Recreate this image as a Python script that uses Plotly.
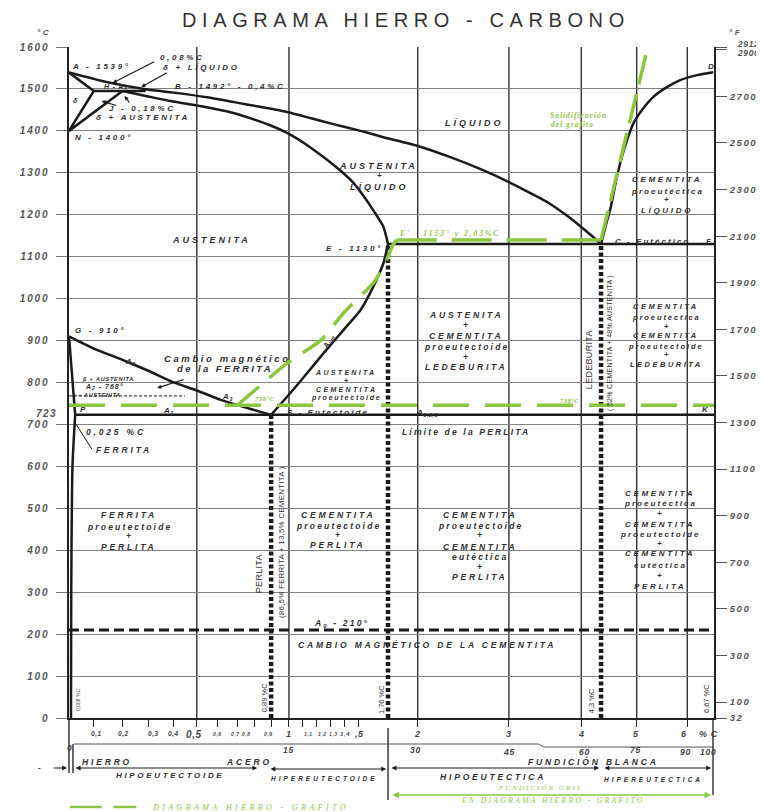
import numpy as np
import plotly.graph_objects as go

# ---------------- axis definition (printed composition axis is not linear) ----------------
AXIS_C = [0, 0.1, 0.2, 0.3, 0.4, 0.5, 0.6, 0.7, 0.8, 0.9, 1.0, 1.5, 1.76, 2, 3, 4, 4.3, 5, 6, 6.67]
AXIS_POS = [0, 25, 54, 80, 105, 129, 150, 170, 187, 204, 222, 292, 322, 352, 444, 517, 537, 573, 624, 651]

TEMP_C_TICKS = list(range(0, 1601, 100))
TEMP_F_TICKS = [32, 100, 300, 500, 700, 900, 1100, 1300, 1500, 1700, 1900, 2100, 2300, 2500, 2700, 2900, 2912]
COMP_TICKS = [0.1, 0.2, 0.3, 0.4, 0.5, 0.6, 0.7, 0.8, 0.9, 1.0, 1.1, 1.2, 1.3, 1.4, 1.5, 2, 3, 4, 5, 6]
GRID_C = [0.5, 1, 2, 3, 4, 5, 6]

# ---------------- phase boundaries (%C, °C) ----------------
liquidus_C = [0, 0.14, 0.29, 0.42, 0.55, 0.69, 0.84, 0.99, 1.16, 1.32, 1.52, 1.72, 2.0, 2.35, 2.71, 3.0,
              3.27, 3.55, 3.8, 4.0, 4.15, 4.3]
liquidus_T = [1539, 1517, 1499, 1490, 1480, 1468, 1457, 1445, 1430, 1416, 1400, 1385, 1364, 1338, 1307, 1278,
              1254, 1228, 1198, 1171, 1151, 1130]

solidus_C = [0.2, 0.3, 0.39, 0.54, 0.66, 0.77, 0.89, 0.99, 1.17, 1.34, 1.46, 1.54, 1.64, 1.72, 1.76]
solidus_T = [1495, 1482, 1471, 1457, 1445, 1431, 1414, 1395, 1357, 1314, 1278, 1247, 1207, 1171, 1130]

delta_AH_C = [0, 0.1]
delta_AH_T = [1539, 1495]
delta_NH_C = [0, 0.1]
delta_NH_T = [1400, 1495]
delta_NJ_C = [0, 0.2]
delta_NJ_T = [1400, 1495]
peritectic_C = [0.1, 0.29]
peritectic_T = [1495, 1495]

a3_C = [0, 0.1, 0.2, 0.3, 0.4, 0.5, 0.62, 0.75, 0.9]
a3_T = [910, 881, 854, 828, 801, 781, 758, 740, 723]
acm_C = [0.9, 1.01, 1.13, 1.25, 1.4, 1.52, 1.63, 1.72, 1.76]
acm_T = [723, 775, 822, 870, 928, 973, 1028, 1085, 1130]
gp_C = [0, 0.025]
gp_T = [910, 723]
pq_C = [0.025, 0.014, 0.009, 0.008]
pq_T = [723, 600, 300, 0]

eutectic_C = [1.76, 6.67]
eutectic_T = [1130, 1130]
eutectoid_C = [0.025, 6.67]
eutectoid_T = [723, 723]

cd_C = [4.3, 4.4, 4.49, 4.59, 4.69, 4.81, 4.94, 5.12, 5.33, 5.58, 5.86, 6.25, 6.65]
cd_T = [1130, 1178, 1218, 1278, 1330, 1378, 1419, 1452, 1481, 1503, 1521, 1533, 1540]

a2_C = [0, 0.45]
a2_T = [768, 768]
a0_C = [0, 6.67]
a0_T = [210, 210]

dotted_C = [0.9, 1.76, 4.3]
dotted_top_T = [723, 1130, 1130]

# iron - graphite diagram (green)
g_eutectoid_C = [0, 6.67]
g_eutectoid_T = [746, 746]
g_acm_C = [0.7, 0.86, 0.99, 1.23, 1.40, 1.63, 1.72, 1.80, 1.83]
g_acm_T = [746, 801, 846, 901, 968, 1037, 1075, 1128, 1140]
g_eutectic_C = [1.83, 4.3]
g_eutectic_T = [1140, 1140]
g_liq_C = [4.3, 5.22]
g_liq_T = [1140, 1600]

# ---------------- style ----------------
BLACK = '#1a1a1a'
GREEN = '#8CC63E'
DARK = '#303030'
SANS = 'Liberation Sans'
SERIF = 'Liberation Serif'

# plot area as seen on screen (page body adds an 8 px offset)
L, T = 63, 47
PW, PH = 651, 671
OFF = 8
W, H = 764, 812


def X(c):
    return np.interp(c, AXIS_C, AXIS_POS)


def PX(px):
    return (px - L) / PW


def PY(py):
    return (T + PH - py) / PH


fig = go.Figure()


def line(c, t, color=BLACK, width=2.5, dash=None):
    fig.add_trace(go.Scatter(x=X(np.array(c, dtype=float)), y=t, mode='lines',
                             line=dict(color=color, width=width, dash=dash, shape='spline', smoothing=0.6),
                             hoverinfo='skip', showlegend=False))


# vertical grid lines
for c in GRID_C:
    fig.add_shape(type='line', x0=X(c), x1=X(c), y0=0, y1=1600, xref='x', yref='y',
                  line=dict(color='#222', width=1.3), layer='below')

# black diagram
for c, t in [(liquidus_C, liquidus_T), (solidus_C, solidus_T), (delta_AH_C, delta_AH_T),
             (delta_NH_C, delta_NH_T), (delta_NJ_C, delta_NJ_T), (peritectic_C, peritectic_T),
             (a3_C, a3_T), (acm_C, acm_T), (gp_C, gp_T), (pq_C, pq_T),
             (eutectic_C, eutectic_T), (eutectoid_C, eutectoid_T), (cd_C, cd_T)]:
    line(c, t)
line(a2_C, a2_T, width=1, dash='3px,2px')
line(a0_C, a0_T, width=3, dash='10px,5px')
for c, t in zip(dotted_C, dotted_top_T):
    line([c, c], [0, t], width=4.5, dash='4px,2.5px')

# green diagram
line(g_eutectoid_C, g_eutectoid_T, color=GREEN, width=3.5, dash='36px,16px')
line(g_acm_C, g_acm_T, color=GREEN, width=3.5, dash='28px,14px')
line(g_eutectic_C, g_eutectic_T, color=GREEN, width=3.5, dash='40px,15px')
line(g_liq_C, g_liq_T, color=GREEN, width=3.5, dash='30px,10px')

# invisible trace for the °F axis
fig.add_trace(go.Scatter(x=[0], y=[32], yaxis='y2', mode='markers', marker=dict(opacity=0),
                         hoverinfo='skip', showlegend=False))


def sp(s, ls):
    return f'<span style="letter-spacing:{ls}px">{s}</span>' if ls else s


def auto_ls(s, size):
    letters = [ch for ch in s if ch.isalpha()]
    if not letters:
        return 1.0 * size / 9
    up = sum(ch.isupper() for ch in letters) / len(letters)
    return (3.0 if up > 0.5 else 2.3) * size / 9


def txt(s, px, py, size=9, color=DARK, angle=0, family=SANS, italic=True, bold=True,
        ls=None, xanchor='center'):
    if ls is None:
        ls = round(auto_ls(s, size), 2)
    fig.add_annotation(x=PX(px), y=PY(py), xref='paper', yref='paper', text=sp(s, ls),
                       showarrow=False, textangle=angle, xanchor=xanchor, yanchor='middle',
                       font=dict(family=family, size=size, color=color,
                                 style='italic' if italic else 'normal',
                                 weight='bold' if bold else 'normal'))


def arrow(x0, y0, x1, y1, color=BLACK, both=False, width=1.2, size=0.8, head=2):
    fig.add_annotation(x=PX(x1), y=PY(y1), xref='paper', yref='paper', ax=x0 - x1, ay=y0 - y1,
                       axref='pixel', ayref='pixel', text='', showarrow=True,
                       arrowhead=head, startarrowhead=head, arrowsize=size, arrowwidth=width,
                       arrowcolor=color, arrowside='end+start' if both else 'end')


def seg(x0, y0, x1, y1, color=BLACK, width=1.2, dash=None):
    fig.add_shape(type='line', xref='paper', yref='paper', x0=PX(x0), y0=PY(y0), x1=PX(x1), y1=PY(y1),
                  line=dict(color=color, width=width, dash=dash))


# title and unit labels
txt('DIAGRAMA HIERRO - CARBONO', 403, 20, size=20, color='#333', italic=False, bold=False, ls=5.6)
txt('°C', 38, 33, size=8, color='#555')
txt('°F', 736, 32, size=8, color='#555')
txt('723', 40, 413, size=10, color='#555', ls=1.4)
txt('2912', 748, 44, size=8.5, color='#555', ls=0.6)
txt('2900', 748, 53, size=8.5, color='#555', ls=0.6)

# upper-left (delta) zone
txt('A - 1539°', 96, 67, size=8)
txt('0,08%C', 177, 57, size=8)
txt('δ + LÍQUIDO', 197, 68, size=8)
txt('H - A<sub>4</sub>', 110, 87, size=7, ls=0.8)
txt('B - 1492° - 0,4%C', 225, 86, size=8)
txt('J - 0,18%C', 137, 108, size=8)
txt('δ + AUSTENITA', 138, 118, size=8)
txt('δ', 70, 100, size=7)
txt('N - 1400°', 98, 137, size=8)
arrow(150, 61, 107, 83, size=0.7)
arrow(163, 72, 136, 87, size=0.7)
arrow(112, 106, 96, 101, size=0.7)
arrow(125, 104, 119, 96, size=0.7)

# liquid / austenite zone
txt('LÍQUIDO', 472, 123)
txt('AUSTENITA', 375, 166)
txt('+', 377, 176, size=8)
txt('LÍQUIDO', 376, 187)
txt('AUSTENITA', 207, 240)
txt('E - 1130°', 351, 248, size=8)
txt('Solidificación', 577, 115, size=7.5, color=GREEN, family=SERIF, ls=1.0)
txt('del grafito', 571, 125, size=7.5, color=GREEN, family=SERIF, ls=1.0)
txt("E' - 1153° y 2,03%C", 447, 233, size=7.5, color=GREEN, family=SERIF, ls=2.0)
for s, y in [('CEMENTITA', 180), ('proeutéctica', 191), ('+', 200), ('LÍQUIDO', 211)]:
    txt(s, 667, y, size=8)
txt('C - Eutéctico', 652, 241, size=8)
txt('F', 710, 241, size=8)
txt('D', 712, 67, size=8)

# austenite to eutectoid zone
txt('G - 910°', 95, 330, size=8)
txt('A<sub>3</sub>', 125, 362, size=8, ls=0.5)
txt('Cambio magnético', 223, 358, size=9.5, ls=2.6)
txt('de la FERRITA', 220, 368, size=9.5, ls=2.4)
arrow(180, 379, 152, 388, size=0.7)
txt('β + AUSTENITA', 102, 379, size=5.5, ls=0.8)
txt('A<sub>2</sub> - 768°', 99, 387, size=7, ls=1)
txt('α + AUSTENITA', 91, 395, size=5.5, ls=0.6)
txt('A<sub>3</sub>', 223, 397, size=8, ls=0.5)
txt('A<sub>1</sub>', 163, 411, size=8, ls=0.5)
txt('P', 78, 409, size=8)
txt('0,025 %C', 110, 432, size=8.5)
txt('FERRITA', 119, 450, size=8.5)
seg(68, 421, 86, 449, width=1)
txt('S - Eutectoide', 324, 412, size=8)
for s, y in [('AUSTENITA', 372), ('+', 380), ('CEMENTITA', 389), ('proeutectoide', 398)]:
    txt(s, 343, y, size=7)
txt('A<sub>cm</sub>', 325, 342, size=7.5, angle=-62, ls=0.5)
txt('738°C', 260, 398, size=6.5, color=GREEN, family=SERIF, ls=0.5)
txt('738°C', 568, 400, size=6.5, color=GREEN, family=SERIF, ls=0.5)
for s, y in [('AUSTENITA', 315), ('+', 325), ('CEMENTITA', 336), ('proeutectoide', 347),
             ('+', 357), ('LEDEBURITA', 367)]:
    txt(s, 464, y, size=8.5)
txt('A<sub>1,2,3</sub>', 425, 413, size=8, ls=0.5)
txt('Límite de la PERLITA', 464, 432, size=8.5)
txt('LEDEBURITA', 588, 360, size=9, angle=-90, italic=False, bold=False, ls=0.3)
txt('( 52% CEMENTITA + 48% AUSTENITA )', 609, 343, size=7, angle=-90, italic=False, bold=False, ls=0.3)
for s, y in [('CEMENTITA', 306), ('proeutéctica', 317), ('+', 326), ('CEMENTITA', 335),
             ('proeutectoide', 346), ('+', 354), ('LEDEBURITA', 364)]:
    txt(s, 666, y, size=7.5)
txt('K', 706, 410, size=8)

# room-temperature zones
for s, y in [('FERRITA', 515), ('proeutectoide', 527), ('+', 536), ('PERLITA', 547)]:
    txt(s, 124, y, size=8.5)
for s, y in [('CEMENTITA', 515), ('proeutectoide', 526), ('+', 535), ('PERLITA', 545)]:
    txt(s, 335, y, size=8.5)
txt('PERLITA', 255, 574, size=9, angle=-90, italic=False, bold=False, ls=0.3)
txt('(86,5% FERRITA + 13,5% CEMENTITA )', 277, 542, size=8, angle=-90, italic=False, bold=False, ls=0.2)
for s, y in [('CEMENTITA', 515), ('proeutectoide', 526), ('+', 535), ('CEMENTITA', 547),
             ('eutéctica', 557), ('+', 567), ('PERLITA', 577)]:
    txt(s, 478, y, size=8.5)
for s, y in [('CEMENTITA', 493), ('proeutéctica', 503), ('+', 513), ('CEMENTITA', 524),
             ('proeutectoide', 534), ('+', 543), ('CEMENTITA', 553), ('eutéctica', 565),
             ('+', 575), ('PERLITA', 586)]:
    txt(s, 660, y, size=8)
txt('A<sub>0</sub> - 210°', 338, 623, size=8.5)
txt('CAMBIO MAGNÉTICO DE LA CEMENTITA', 424, 645, size=8.5)
txt('0,008 %C', 72, 700, size=5, angle=-90, italic=False, bold=False, ls=0)
txt('0,89 %C', 260, 698, size=7.5, angle=-90, italic=False, bold=False, ls=0)
txt('1,76 %C', 378, 700, size=7.5, angle=-90, italic=False, bold=False, ls=0)
txt('4,3 %C', 590, 701, size=7.5, angle=-90, italic=False, bold=False, ls=0)
txt('6,67 %C', 706, 699, size=7.5, angle=-90, italic=False, bold=False, ls=0)

# composition labels under the axis
row1 = [('0,1', 91, 6.5), ('0,2', 118, 6.5), ('0,3', 148, 6.5), ('0,4', 168, 6.5), ('0,5', 189, 10),
        ('0,6', 213, 5), ('0,7', 231, 5), ('0,8', 242, 5), ('0,9', 264, 5), ('1', 285, 9),
        ('1,1', 305, 5), ('1,2', 319, 5), ('1,3', 330, 5), ('1,4', 342, 6), (',5', 356, 9),
        ('2', 415, 9), ('3', 507, 9), ('4', 580, 9), ('5', 635, 9), ('6', 684, 9), ('% C', 708, 9)]
for s, x, size in row1:
    txt(s, x, 734, size=size, color='#444', ls=0.6)
row2 = [('0', 64, 748), ('15', 285, 750), ('30', 413, 750), ('45', 507, 752), ('60', 583, 752),
        ('75', 635, 750), ('90', 685, 752), ('100', 708, 752)]
for s, x, y in row2:
    txt(s, x, y, size=8.5, color='#444', ls=0.8)

# bottom classification bands
seg(68, 744, 537, 744, width=1, color='#555')
seg(537, 744, 542, 747, width=1, color='#555')
seg(542, 747, 713, 747, width=1, color='#555')
seg(63, 718, 63, 773, width=1.3)
seg(67, 744, 67, 773, width=1.3)
seg(385, 728, 385, 800, width=1.3)
seg(713, 718, 713, 795, width=1.3)
txt('HIERRO', 101, 762, size=8.5)
txt('ACERO', 245, 762, size=8.5)
txt('FUNDICIÓN BLANCA', 592, 761, size=8.5)
arrow(70, 768, 253, 768, both=True, width=1.2, size=0.8)
arrow(266, 769, 383, 769, both=True, width=1.2, size=0.8)
arrow(389, 768, 598, 768, both=True, width=1.2, size=0.8)
arrow(603, 768, 711, 768, both=True, width=1.2, size=0.8)
arrow(46, 768, 61, 768, width=1.2, size=0.8)
txt('-', 34, 768, size=8)
txt('HIPOEUTECTOIDE', 165, 776, size=8)
txt('HIPEREUTECTOIDE', 321, 778, size=6.5, ls=3)
txt('HIPOEUTECTICA', 491, 777, size=8.5)
txt('HIPEREUTECTICA', 653, 779, size=6.5, ls=3)
txt('FUNDICIÓN GRIS', 538, 788, size=7, color=GREEN, family=SERIF, bold=False, ls=2)
arrow(391, 795, 711, 795, color=GREEN, both=True, width=1.6, size=0.8)
txt('EN DIAGRAMA HIERRO - GRAFITO', 552, 800, size=7.5, color=GREEN, family=SERIF, bold=False, ls=2.4)

# legend for the green dashed lines
seg(64, 807, 96, 807, color=GREEN, width=2.5)
seg(108, 807, 131, 807, color=GREEN, width=2.5)
txt('DIAGRAMA HIERRO - GRAFITO', 246, 807, size=8, color=GREEN, family=SERIF, bold=False, ls=3.4)

tickfont = dict(family=SANS, size=10, color='#555', style='italic', weight='bold')
fig.update_layout(
    width=W, height=H,
    margin=dict(l=L - OFF, r=W - (L + PW - OFF), t=T - OFF, b=H - (T + PH - OFF)),
    paper_bgcolor='white', plot_bgcolor='white', showlegend=False,
    xaxis=dict(range=[0, AXIS_POS[-1]], showgrid=False, zeroline=False,
               tickvals=X(np.array(COMP_TICKS)), showticklabels=False,
               ticks='outside', ticklen=7, tickwidth=1.3, tickcolor='#222',
               showline=True, linecolor='#222', linewidth=1.5),
    yaxis=dict(range=[0, 1600], tickvals=TEMP_C_TICKS,
               ticktext=[sp(str(v), 1.8) for v in TEMP_C_TICKS],
               ticks='outside', ticklen=11, tickcolor='#777', tickwidth=1,
               showgrid=True, gridcolor='#808080', gridwidth=1, zeroline=False,
               showline=True, linecolor='#222', linewidth=1.5, tickfont=tickfont,
               ticklabelstandoff=5),
    yaxis2=dict(overlaying='y', side='right', range=[32, 2912], tickvals=TEMP_F_TICKS,
                ticktext=[sp(str(v), 1.6) if v not in (2900, 2912) else '' for v in TEMP_F_TICKS],
                ticks='outside', ticklen=11, tickcolor='#555', tickwidth=1,
                showgrid=False, zeroline=False, showline=True, linecolor='#222', linewidth=1.5,
                tickfont=dict(family=SANS, size=9.5, color='#555', style='italic', weight='bold'),
                ticklabelstandoff=1),
)

fig.write_html('out.html')
